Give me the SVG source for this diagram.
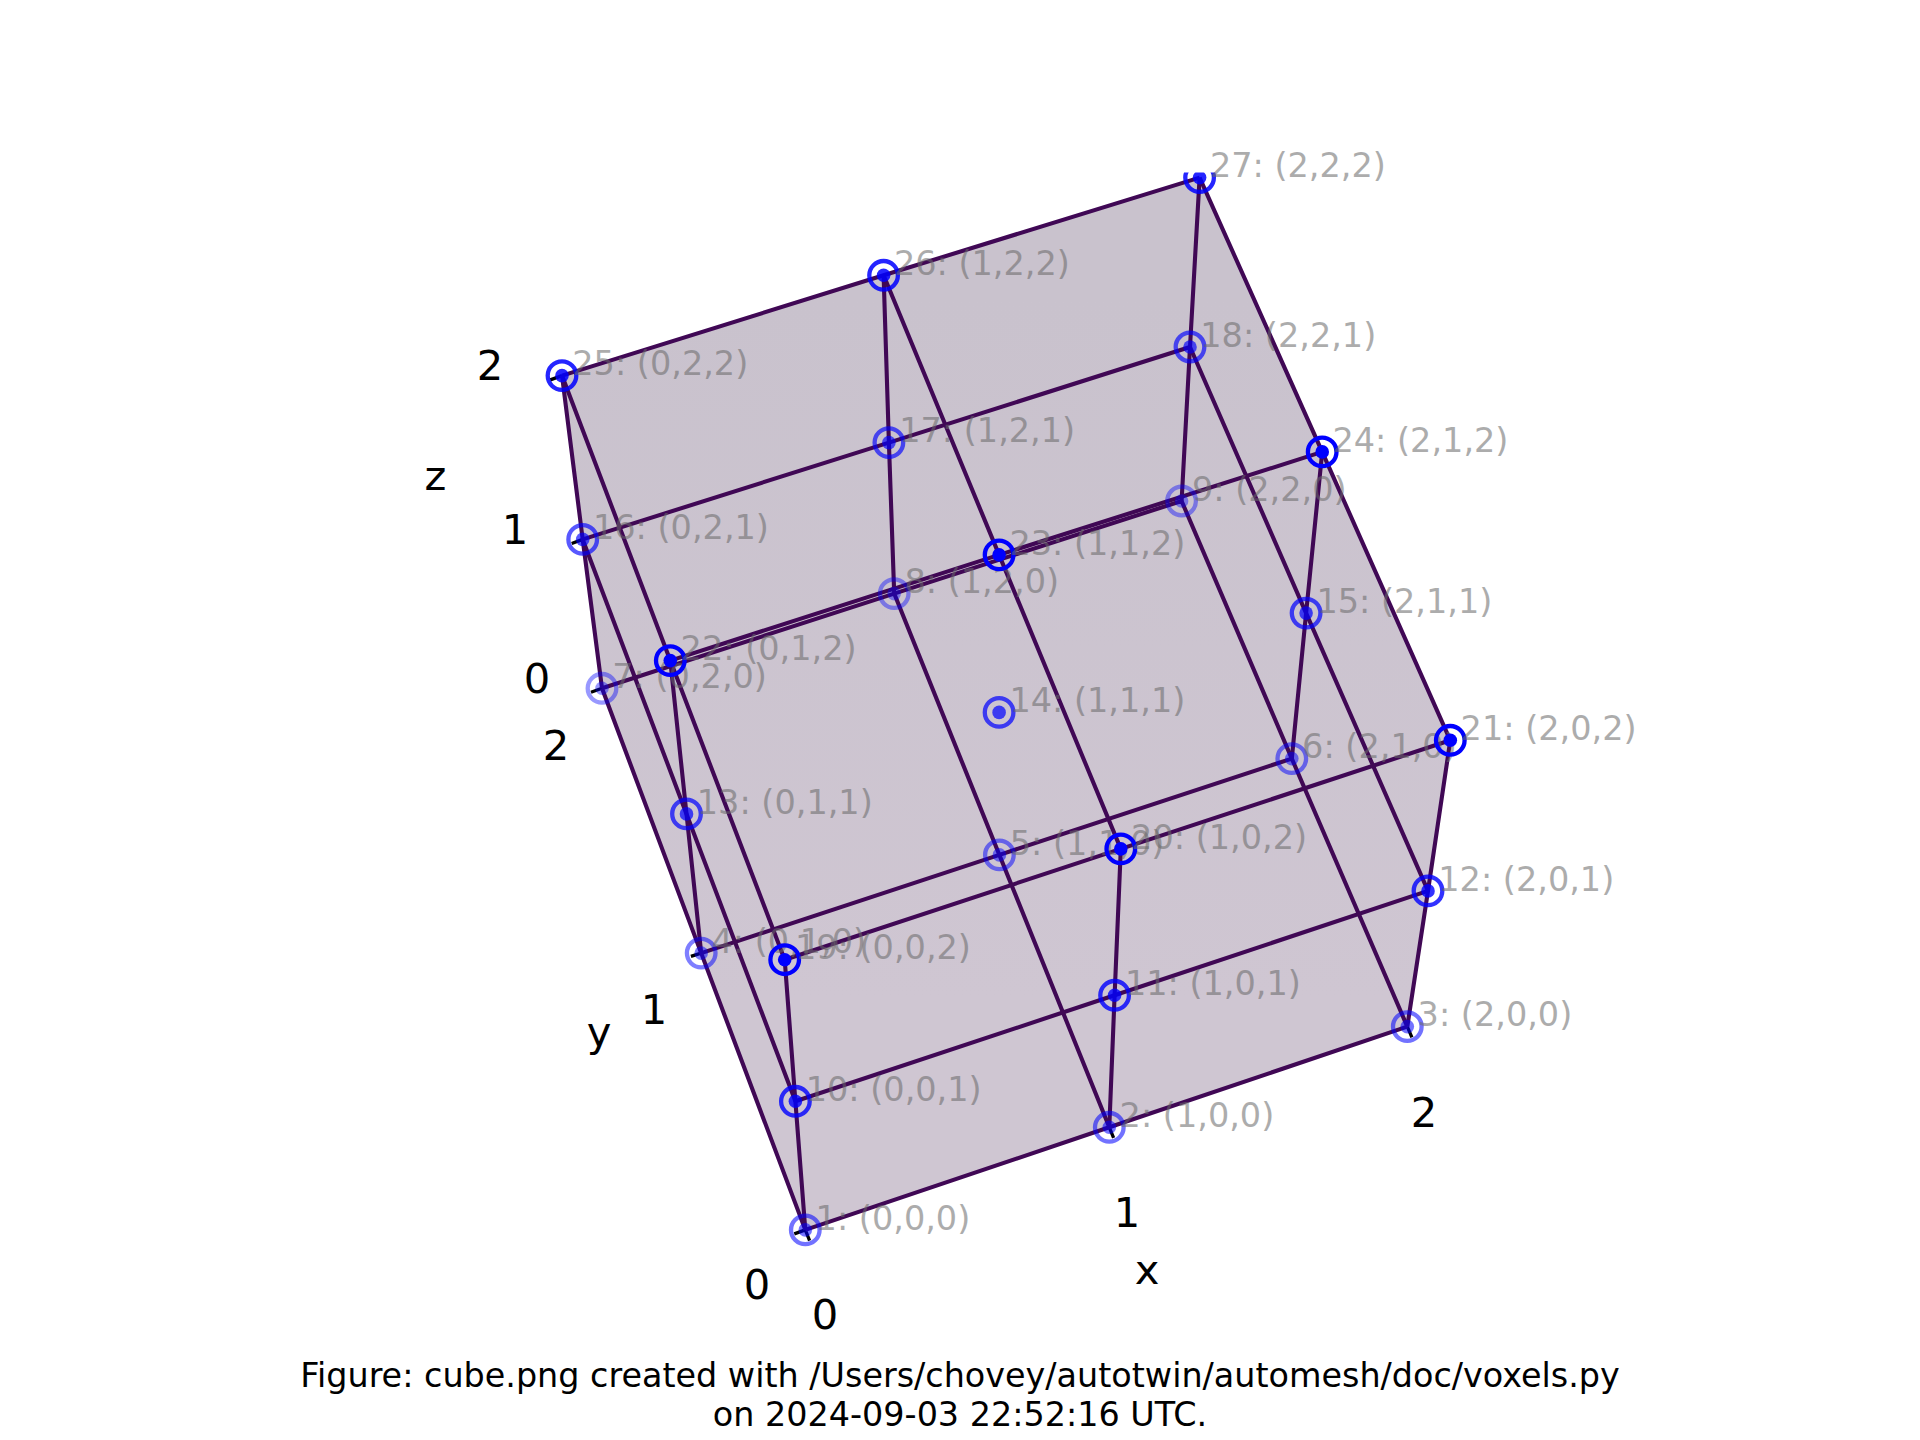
<svg xmlns="http://www.w3.org/2000/svg" width="1920" height="1440" viewBox="0 0 1920 1440">
<style>
text{font-family:"DejaVu Sans","Liberation Sans",sans-serif}
.t{font-size:41.67px;fill:#000;text-anchor:middle}
.c{font-size:33.4px;fill:#000;text-anchor:middle}
.l{font-size:33.5px;fill:#696969;opacity:.55;transform:translate(.8px,-.2px)}
.e{fill:none;stroke:#400855;stroke-width:4.1}
.k{fill:none;stroke:#000;stroke-width:3.3}
.r{fill:none;stroke:#00f;stroke-width:4.3}
.d{fill:#00f;stroke:none}
.a4{opacity:.4}.a5{opacity:.5}.a55{opacity:.55}.a65{opacity:.65}.a7{opacity:.7}.a8{opacity:.8}.a85{opacity:.85}.a1{opacity:1}
</style>
<defs>
<clipPath id="top"><rect x="0" y="172" width="1920" height="1268"/></clipPath>
<linearGradient id="shade" gradientUnits="userSpaceOnUse" x1="0" y1="300" x2="0" y2="1000"><stop offset="0" stop-color="#c9c2cd"/><stop offset="1" stop-color="#cfc6d2"/></linearGradient>
</defs>
<g id="figure" transform="translate(0.3,0.6)">
<polygon id="volume" points="561.7,375 1199.3,177 1450,739.7 1407,1026 805,1229.3 601.7,687.7" fill="url(#shade)"/>
<g id="connectors">
<path class="k" d="M561.7,375L550,379.3M582.4,538.8L571.4,542.9M601.7,687.7L590.7,691.7M700.9,952.5L690.6,955.8M805,1229.3L794,1233.3M805,1229.3L809.3,1240M1109,1126.7L1113.3,1137.3M1407,1026L1411.6,1036.7"/>
<path class="e" d="M805,1229.3L1109,1126.7L1407,1026M700.9,952.5L999.1,854.3L1291.5,758M601.7,687.7L893.9,593L1181.3,500.4M805,1229.3L700.9,952.5L601.7,687.7M1109,1126.7L999.1,854.3L893.9,593M1407,1026L1291.5,758L1181.3,500.4"/>
<path class="e" d="M795.1,1100.7L1114.3,994.7L1427.7,890.3M582.4,538.8L888.6,442L1189.7,346.4M795.1,1100.7L686.2,813.3L582.4,538.8M1427.7,890.3L1305.8,612.5L1189.7,346.4"/>
<path class="e" d="M784.4,959.1L1120.5,848.3L1450,739.7M670,660L998.8,554.3L1321.9,451.3M561.7,375L883.3,274.7L1199.3,177M784.4,959.1L670,660L561.7,375M1120.5,848.3L998.8,554.3L883.3,274.7M1450,739.7L1321.9,451.3L1199.3,177"/>
<path class="e" d="M805,1229.3L795.1,1100.7L784.4,959.1M1109,1126.7L1114.3,994.7L1120.5,848.3M1407,1026L1427.7,890.3L1450,739.7M700.9,952.5L686.2,813.3L670,660M1291.5,758L1305.8,612.5L1321.9,451.3M601.7,687.7L582.4,538.8L561.7,375M893.9,593L888.6,442L883.3,274.7M1181.3,500.4L1189.7,346.4L1199.3,177"/>
</g>
<g id="node7"><g class="a4"><circle class="r" cx="601.7" cy="687.7" r="14.3"/><circle class="d" cx="601.7" cy="687.7" r="6.8"/></g><text class="l" x="611.2" y="687.7">7: (0,2,0)</text></g>
<g id="node8"><g class="a4"><circle class="r" cx="893.9" cy="593" r="14.3"/><circle class="d" cx="893.9" cy="593" r="6.8"/></g><text class="l" x="903.4" y="593">8: (1,2,0)</text></g>
<g id="node9"><g class="a4"><circle class="r" cx="1181.3" cy="500.4" r="14.3"/><circle class="d" cx="1181.3" cy="500.4" r="6.8"/></g><text class="l" x="1190.8" y="500.4">9: (2,2,0)</text></g>
<g id="node4"><g class="a5"><circle class="r" cx="700.9" cy="952.5" r="14.3"/><circle class="d" cx="700.9" cy="952.5" r="6.8"/></g><text class="l" x="710.4" y="952.5">4: (0,1,0)</text></g>
<g id="node5"><g class="a5"><circle class="r" cx="999.1" cy="854.3" r="14.3"/><circle class="d" cx="999.1" cy="854.3" r="6.8"/></g><text class="l" x="1008.6" y="854.3">5: (1,1,0)</text></g>
<g id="node6"><g class="a5"><circle class="r" cx="1291.5" cy="758" r="14.3"/><circle class="d" cx="1291.5" cy="758" r="6.8"/></g><text class="l" x="1301" y="758">6: (2,1,0)</text></g>
<g id="node1"><g class="a55"><circle class="r" cx="805" cy="1229.3" r="14.3"/><circle class="d" cx="805" cy="1229.3" r="6.8"/></g><text class="l" x="814.5" y="1229.3">1: (0,0,0)</text></g>
<g id="node2"><g class="a55"><circle class="r" cx="1109" cy="1126.7" r="14.3"/><circle class="d" cx="1109" cy="1126.7" r="6.8"/></g><text class="l" x="1118.5" y="1126.7">2: (1,0,0)</text></g>
<g id="node3"><g class="a55"><circle class="r" cx="1407" cy="1026" r="14.3"/><circle class="d" cx="1407" cy="1026" r="6.8"/></g><text class="l" x="1416.5" y="1026">3: (2,0,0)</text></g>
<g id="node16"><g class="a65"><circle class="r" cx="582.4" cy="538.8" r="14.3"/><circle class="d" cx="582.4" cy="538.8" r="6.8"/></g><text class="l" x="591.9" y="538.8">16: (0,2,1)</text></g>
<g id="node17"><g class="a65"><circle class="r" cx="888.6" cy="442" r="14.3"/><circle class="d" cx="888.6" cy="442" r="6.8"/></g><text class="l" x="898.1" y="442">17: (1,2,1)</text></g>
<g id="node18"><g class="a65"><circle class="r" cx="1189.7" cy="346.4" r="14.3"/><circle class="d" cx="1189.7" cy="346.4" r="6.8"/></g><text class="l" x="1199.2" y="346.4">18: (2,2,1)</text></g>
<g id="node13"><g class="a7"><circle class="r" cx="686.2" cy="813.3" r="14.3"/><circle class="d" cx="686.2" cy="813.3" r="6.8"/></g><text class="l" x="695.7" y="813.3">13: (0,1,1)</text></g>
<g id="node14"><g class="a7"><circle class="r" cx="998.8" cy="711.8" r="14.3"/><circle class="d" cx="998.8" cy="711.8" r="6.8"/></g><text class="l" x="1008.3" y="711.8">14: (1,1,1)</text></g>
<g id="node15"><g class="a7"><circle class="r" cx="1305.8" cy="612.5" r="14.3"/><circle class="d" cx="1305.8" cy="612.5" r="6.8"/></g><text class="l" x="1315.3" y="612.5">15: (2,1,1)</text></g>
<g id="node10"><g class="a8"><circle class="r" cx="795.1" cy="1100.7" r="14.3"/><circle class="d" cx="795.1" cy="1100.7" r="6.8"/></g><text class="l" x="804.6" y="1100.7">10: (0,0,1)</text></g>
<g id="node11"><g class="a8"><circle class="r" cx="1114.3" cy="994.7" r="14.3"/><circle class="d" cx="1114.3" cy="994.7" r="6.8"/></g><text class="l" x="1123.8" y="994.7">11: (1,0,1)</text></g>
<g id="node12"><g class="a8"><circle class="r" cx="1427.7" cy="890.3" r="14.3"/><circle class="d" cx="1427.7" cy="890.3" r="6.8"/></g><text class="l" x="1437.2" y="890.3">12: (2,0,1)</text></g>
<g id="node25"><g class="a85"><circle class="r" cx="561.7" cy="375" r="14.3"/><circle class="d" cx="561.7" cy="375" r="6.8"/></g><text class="l" x="571.2" y="375">25: (0,2,2)</text></g>
<g id="node26"><g class="a85"><circle class="r" cx="883.3" cy="274.7" r="14.3"/><circle class="d" cx="883.3" cy="274.7" r="6.8"/></g><text class="l" x="892.8" y="274.7">26: (1,2,2)</text></g>
<g id="node27"><g class="a85" clip-path="url(#top)"><circle class="r" cx="1199.3" cy="177" r="14.3"/><circle class="d" cx="1199.3" cy="177" r="6.8"/></g><text class="l" x="1208.8" y="176.5">27: (2,2,2)</text></g>
<g id="node22"><g class="a1"><circle class="r" cx="670" cy="660" r="14.3"/><circle class="d" cx="670" cy="660" r="6.8"/></g><text class="l" x="679.5" y="660">22: (0,1,2)</text></g>
<g id="node23"><g class="a1"><circle class="r" cx="998.8" cy="554.3" r="14.3"/><circle class="d" cx="998.8" cy="554.3" r="6.8"/></g><text class="l" x="1008.3" y="554.3">23: (1,1,2)</text></g>
<g id="node24"><g class="a1"><circle class="r" cx="1321.9" cy="451.3" r="14.3"/><circle class="d" cx="1321.9" cy="451.3" r="6.8"/></g><text class="l" x="1331.4" y="451.3">24: (2,1,2)</text></g>
<g id="node19"><g class="a1"><circle class="r" cx="784.4" cy="959.1" r="14.3"/><circle class="d" cx="784.4" cy="959.1" r="6.8"/></g><text class="l" x="793.9" y="959.1">19: (0,0,2)</text></g>
<g id="node20"><g class="a1"><circle class="r" cx="1120.5" cy="848.3" r="14.3"/><circle class="d" cx="1120.5" cy="848.3" r="6.8"/></g><text class="l" x="1130" y="848.3">20: (1,0,2)</text></g>
<g id="node21"><g class="a1"><circle class="r" cx="1450" cy="739.7" r="14.3"/><circle class="d" cx="1450" cy="739.7" r="6.8"/></g><text class="l" x="1459.5" y="739.7">21: (2,0,2)</text></g>
</g>
<g id="axes">
<text class="t" x="490" y="380">2</text><text class="t" x="515" y="544">1</text><text class="t" x="537" y="693">0</text>
<text class="t" x="556" y="760">2</text><text class="t" x="654" y="1024">1</text><text class="t" x="757" y="1299">0</text>
<text class="t" x="825" y="1329">0</text><text class="t" x="1127" y="1227">1</text><text class="t" x="1424" y="1127">2</text>
<text class="t" x="435.5" y="490">z</text><text class="t" x="599" y="1046">y</text><text class="t" x="1147" y="1284">x</text>
</g>
<g id="caption">
<text class="c" x="960" y="1387">Figure: cube.png created with /Users/chovey/autotwin/automesh/doc/voxels.py</text>
<text class="c" x="960" y="1426">on 2024-09-03 22:52:16 UTC.</text>
</g>
</svg>
